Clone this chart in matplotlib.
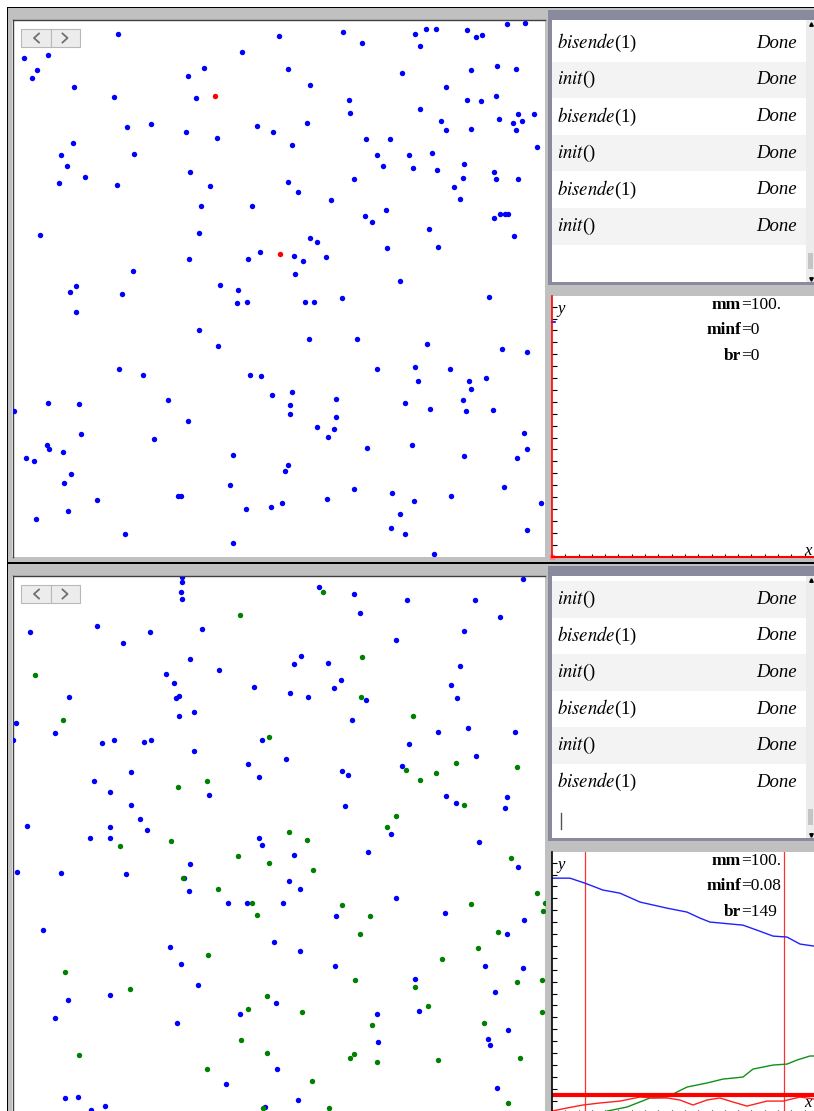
import matplotlib.pyplot as plt
from matplotlib.patches import Rectangle
from matplotlib.ticker import MultipleLocator

plt.rcParams['mathtext.fontset'] = 'stix'
plt.rcParams['font.family'] = ['Liberation Serif', 'DejaVu Serif']

# points of the two scatter panes, in screen pixels
top_blue_x = [118, 279, 343, 362, 415, 426, 436, 420, 467, 476, 482, 507, 525, 24, 48, 37, 32, 74, 114, 188,
              204, 196, 242, 288, 310, 349, 350, 402, 446, 471, 497, 516, 420, 467, 481, 496, 441, 446, 471, 499,
              518, 513, 522, 534, 516, 537, 127, 151, 186, 217, 257, 273, 307, 292, 366, 390, 377, 409, 432, 383,
              413, 437, 464, 494, 463, 496, 518, 454, 460, 73, 61, 67, 85, 59, 117, 134, 190, 210, 288, 298,
              354, 331, 201, 252, 365, 372, 386, 494, 500, 505, 508, 429, 514, 387, 438, 40, 199, 189, 248, 260,
              294, 303, 310, 317, 326, 295, 400, 133, 76, 70, 122, 76, 220, 238, 237, 247, 305, 314, 342, 489,
              199, 218, 309, 357, 427, 502, 527, 119, 143, 250, 261, 377, 415, 450, 486, 418, 469, 14, 48, 79,
              168, 188, 272, 292, 290, 290, 336, 336, 317, 334, 328, 405, 430, 463, 466, 471, 493, 524, 527, 517,
              464, 412, 367, 81, 154, 47, 49, 63, 26, 34, 71, 64, 233, 288, 285, 230, 178, 181, 97, 68,
              36, 125, 233, 246, 271, 282, 327, 354, 392, 414, 451, 504, 541, 400, 391, 405, 527, 434]
top_blue_y = [34, 36, 32, 43, 34, 29, 29, 46, 30, 37, 35, 24, 23, 58, 55, 70, 78, 87, 97, 76,
              68, 98, 52, 69, 85, 100, 113, 73, 87, 70, 66, 69, 109, 100, 101, 96, 121, 130, 129, 119,
              114, 123, 121, 114, 130, 147, 127, 124, 132, 138, 126, 132, 123, 145, 139, 139, 155, 155, 153, 166,
              168, 170, 164, 172, 178, 179, 179, 187, 199, 143, 155, 166, 177, 183, 185, 154, 172, 186, 182, 192,
              179, 200, 206, 206, 216, 222, 210, 218, 214, 214, 214, 229, 236, 248, 247, 235, 233, 259, 259, 252,
              256, 261, 238, 242, 257, 274, 281, 271, 286, 292, 294, 312, 285, 290, 303, 302, 302, 302, 298, 297,
              330, 346, 339, 339, 344, 349, 352, 369, 375, 375, 376, 369, 367, 369, 378, 381, 381, 411, 403, 404,
              400, 421, 395, 392, 405, 414, 399, 417, 427, 429, 437, 403, 409, 400, 411, 389, 410, 433, 449, 458,
              456, 445, 448, 434, 439, 445, 449, 452, 458, 461, 474, 483, 455, 465, 471, 485, 496, 496, 500, 511,
              519, 534, 543, 509, 507, 503, 499, 489, 493, 501, 496, 487, 503, 514, 528, 534, 530, 554]
top_red_x = [215, 280]
top_red_y = [96, 254]

bot_blue_x = [182, 182, 181, 182, 319, 354, 407, 475, 523, 360, 500, 30, 97, 150, 123, 202, 396, 464, 190, 301,
              294, 328, 219, 166, 174, 460, 451, 341, 334, 254, 290, 308, 366, 457, 69, 176, 179, 194, 179, 352,
              16, 55, 13, 102, 114, 144, 151, 194, 262, 409, 438, 468, 515, 476, 248, 286, 342, 348, 402, 259,
              94, 131, 110, 209, 131, 345, 446, 456, 507, 505, 140, 27, 110, 147, 90, 110, 259, 262, 391, 479,
              368, 294, 190, 17, 61, 126, 184, 289, 300, 189, 228, 247, 283, 396, 518, 336, 445, 524, 43, 507,
              170, 274, 300, 335, 181, 198, 485, 523, 415, 495, 68, 110, 55, 177, 240, 276, 377, 419, 508, 488,
              490, 378, 277, 226, 298, 497, 65, 78, 105, 91, 265]
bot_blue_y = [577, 582, 592, 599, 587, 594, 600, 600, 579, 613, 617, 632, 626, 632, 643, 629, 640, 631, 659, 656,
              664, 663, 670, 674, 683, 666, 685, 680, 688, 687, 693, 697, 700, 698, 697, 698, 696, 712, 716, 720,
              723, 733, 740, 743, 740, 742, 740, 751, 740, 744, 732, 728, 732, 756, 764, 759, 771, 775, 766, 777,
              781, 772, 792, 795, 805, 806, 796, 803, 797, 808, 819, 826, 827, 830, 838, 838, 838, 845, 834, 842,
              852, 855, 864, 872, 873, 874, 878, 881, 889, 891, 903, 903, 903, 898, 867, 916, 913, 920, 930, 934,
              947, 942, 951, 966, 964, 985, 966, 968, 979, 992, 1000, 995, 1018, 1023, 1014, 1003, 1014, 1011, 1030, 1039,
              1045, 1042, 1069, 1084, 1100, 1088, 1098, 1097, 1106, 1110, 1107]
bot_green_x = [323, 240, 362, 35, 361, 63, 413, 269, 406, 420, 436, 456, 517, 207, 178, 464, 396, 387, 289, 307,
               171, 120, 238, 269, 313, 511, 183, 218, 252, 257, 342, 370, 471, 537, 545, 543, 360, 498, 65, 130,
               208, 355, 442, 478, 517, 542, 415, 428, 267, 248, 302, 542, 372, 484, 241, 79, 267, 354, 350, 377,
               438, 520, 207, 312, 508, 329, 263]
bot_green_y = [592, 615, 657, 675, 697, 720, 716, 737, 770, 780, 773, 763, 767, 781, 787, 805, 816, 827, 832, 840,
               841, 846, 856, 863, 870, 858, 878, 889, 903, 915, 905, 916, 904, 893, 903, 911, 934, 932, 972, 989,
               955, 980, 959, 948, 982, 980, 987, 1006, 996, 1009, 1012, 1012, 1025, 1023, 1040, 1055, 1053, 1054, 1058, 1062,
               1060, 1058, 1069, 1081, 1103, 1108, 1108]

# curves of the lower graph (graph units)
blue_x = [0, 1.35, 2.48, 3.83, 5.11, 6.62, 8.65, 10.15, 11.13, 11.88, 14.36, 15.41, 16.62, 17.67, 18.65, 19.7]
blue_y = [19.7, 19.7, 19.28, 18.7, 18.44, 17.69, 17.18, 16.85, 16.34, 16.01, 15.75, 15.33, 14.83, 14.75, 14.16, 13.99]
green_x = [3.6, 4.14, 5.64, 7.37, 8.65, 10.15, 11.65, 12.86, 14.36, 15.11, 16.62, 17.67, 18.42, 19.4, 19.7]
green_y = [-0.3, 0.12, 0.46, 1.22, 1.3, 2.14, 2.48, 2.81, 2.98, 3.65, 3.99, 4.07, 4.41, 4.75, 4.75]
red_x = [0, 1.13, 2.33, 3.61, 5.11, 6.62, 7.59, 8.65, 9.62, 10.6, 11.65, 12.63, 13.61, 14.66, 16.17, 17.37, 18.65, 19.7]
red_y = [0.12, 0.38, 0.63, 0.8, 0.96, 1.3, 1.22, 1.22, 1.05, 0.63, 1.05, 1.22, 0.88, 0.54, 0.96, 0.96, 1.3, 1.13]
min_level = 1.47
marks_x = [2.48, 17.44]

calls_top = ['bisende(1)', 'init()', 'bisende(1)', 'init()', 'bisende(1)', 'init()']
calls_bot = ['init()', 'bisende(1)', 'init()', 'bisende(1)', 'init()', 'bisende(1)']
names = ['mm', 'minf', 'br']
values_top = ['100.', '0', '0']
values_bot = ['100.', '0.08', '149']

W, H = 814, 1111
GRAY = '#c0c0c0'
SLATE = '#8a8a9e'
fig = plt.figure(figsize=(W / 100, H / 100), dpi=100)


def pax(x0, y0, x1, y1):
    return fig.add_axes([x0 / W, 1 - y1 / H, (x1 - x0) / W, (y1 - y0) / H])


bg = pax(0, 0, W, H)
bg.set_xlim(0, W)
bg.set_ylim(H, 0)
bg.axis('off')


def box(x0, y0, x1, y1, fc, ec='none', lw=0, z=1):
    bg.add_patch(Rectangle((x0, y0), x1 - x0, y1 - y0, facecolor=fc, edgecolor=ec, lw=lw, zorder=z))


box(6.5, 6.5, W, H, 'black')
box(8, 8, W, 561.5, GRAY)
box(8, 564, W, H + 5, GRAY)


def half(d, calls, values, xlab_y):
    # scatter pane
    box(12, 19.5 + d, 545, 557 + d, 'white')
    bg.plot([12.5, 545], [20 + d, 20 + d], color='#404040', lw=1, zorder=2)
    bg.plot([12.5, 12.5], [20 + d, 557 + d], color='#404040', lw=1, zorder=2)
    # calculator pane
    box(548, 9.5 + d, W, 285 + d, SLATE)
    box(552, 20 + d, 806, 282 + d, 'white')
    for i, c in enumerate(calls):
        y0 = 25 + d + 36.6 * i
        if c.startswith('init'):
            box(552, y0, 806, y0 + 36.6, '#f3f3f3', z=2)
        fn, arg = c.split('(')
        bg.text(557, y0 + 18.3, r'$\mathit{%s}$(%s' % (fn, arg), fontsize=13.5,
                ha='left', va='center', zorder=3)
        bg.text(797, y0 + 18.3, 'Done', fontsize=13.5, style='italic', ha='right', va='center', zorder=3)
    box(806, 20 + d, W, 282 + d, '#ececec', z=2)
    box(807.5, 253 + d, 813, 269 + d, '#c4c4c4', z=3)
    bg.plot([810.5], [24 + d], marker='^', ms=2.5, color='black', zorder=4)
    bg.plot([810.5], [279 + d], marker='v', ms=2.5, color='black', zorder=4)
    # graph pane
    box(552, 296 + d, W, 557 + d, 'white')
    for k, (n, v) in enumerate(zip(names, values)):
        yy = 305 + d + 25.5 * k
        bg.text(741, yy, n, fontsize=12.5, weight='bold', ha='right', va='center', zorder=6)
        bg.text(741, yy, '=' + v, fontsize=12.5, ha='left', va='center', zorder=6)
    bg.text(557, 309 + d, 'y', fontsize=12, style='italic', ha='left', va='center', zorder=6)
    bg.text(804, xlab_y, 'x', fontsize=12, style='italic', ha='left', va='center', zorder=6)
    # nav buttons
    for bx in (21, 50.5):
        box(bx, 29 + d, bx + 29.5, 46.5 + d, '#ececec', ec='#b8b8b8', lw=0.8, z=5)
    bg.plot([39, 34, 39], [33.5 + d, 38 + d, 42.5 + d], color='#707070', lw=1.3, zorder=6)
    bg.plot([62.5, 67.5, 62.5], [33.5 + d, 38 + d, 42.5 + d], color='#707070', lw=1.3, zorder=6)


half(0, calls_top, values_top, 551)
half(556, calls_bot, values_bot, 1103)
bg.plot([561, 561], [813, 829], color='#555555', lw=1, zorder=4)

# scatter panes
for (y0, y1), pts in [((20.5, 557), [(top_blue_x, top_blue_y, '#0000ff'), (top_red_x, top_red_y, '#ff0000')]),
                      ((577, 1113), [(bot_blue_x, bot_blue_y, '#0000ff'), (bot_green_x, bot_green_y, '#008000')])]:
    sax = pax(13, y0, 545, y1)
    sax.set_xlim(13, 545)
    sax.set_ylim(y1, y0)
    sax.axis('off')
    for xs, ys, c in pts:
        sax.plot(xs, ys, 'o', ms=3.9, mew=0, color=c)


# graphs
def graph(d, axis_color):
    g = pax(552, 296 + d, W, 556.5 + d)
    g.set_xlim(0, 19.7)
    g.set_ylim(0, 21.9)
    g.patch.set_alpha(0)
    g.xaxis.set_major_locator(MultipleLocator(1))
    g.yaxis.set_major_locator(MultipleLocator(1))
    g.tick_params(axis='y', direction='in', length=3.5, width=0.8, colors='black', labelleft=False)
    g.tick_params(axis='x', direction='in', length=2, width=0.8, colors='black', labelbottom=False)
    for s in ('top', 'right'):
        g.spines[s].set_visible(False)
    g.spines['left'].set_color(axis_color)
    g.spines['bottom'].set_color('red')
    g.spines['left'].set_linewidth(1.2)
    g.spines['bottom'].set_linewidth(1.5)
    return g


g1 = graph(0, 'red')
g1.plot([0, 0.25], [blue_y[0], blue_y[0]], color='#0000ff', lw=1.2, clip_on=False)
g1.plot([0], [0], 's', ms=2.5, color='#ff8080', clip_on=False)

g2 = graph(556, 'black')
for mx in marks_x:
    g2.axvline(mx, color='#ff3030', lw=0.9)
g2.plot(blue_x, blue_y, color='#2020ff', lw=1)
g2.plot(green_x, green_y, color='#10901a', lw=1)
g2.plot(red_x, red_y, color='#ff2020', lw=1)
g2.axhline(min_level, color='#ff0000', lw=3)

fig.savefig('out.png', dpi=100)
